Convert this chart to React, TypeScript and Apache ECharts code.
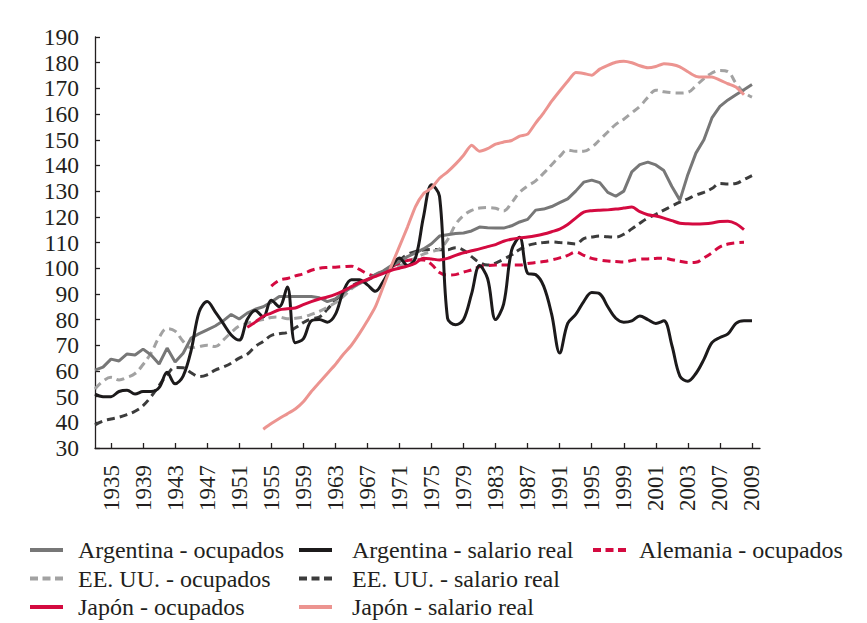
import { useEffect, useRef } from 'react';
import * as echarts from 'echarts';

// category positions as in the source sheet: yearly up to 1999, then mixed steps
const YEARS = [
  '1933', '1934', '1935', '1936', '1937', '1938', '1939', '1940', '1941', '1942',
  '1943', '1944', '1945', '1946', '1947', '1948', '1949', '1950', '1951', '1952',
  '1953', '1954', '1955', '1956', '1957', '1958', '1959', '1960', '1961', '1962',
  '1963', '1964', '1965', '1966', '1967', '1968', '1969', '1970', '1971', '1972',
  '1973', '1974', '1975', '1976', '1977', '1978', '1979', '1980', '1981', '1982',
  '1983', '1984', '1985', '1986', '1987', '1988', '1989', '1990', '1991', '1992',
  '1993', '1994', '1995', '1996', '1997', '1998', '1999', '1999 II', '2000 I', '2000 II',
  '2001', '2001 II', '2002 I', '2002 II', '2003', '2004', '2005', '2006', '2007', '2007 II',
  '2008 I', '2008 II', '2009', '2009 II',
];

const _ = null;

const ARG_OCUPADOS = [
  60.3, 61.5, 64.6, 63.9, 66.6, 66.2, 68.5, 66.2, 62.7, 68.9,
  63.5, 66.9, 72.8, 74.5, 76, 77.5, 79.5, 82, 80.2, 82.5,
  84, 85, 86.8, 89, 89, 89, 89, 89, 88.5, 87,
  88, 90.5, 92.5, 94, 95.5, 97.5, 99, 101, 102.5, 104.5,
  106, 107.5, 109.5, 112.5, 113, 113.5, 113.7, 114.5, 116, 115.7,
  115.6, 115.6, 116.5, 118, 119, 122.6, 123, 124, 125.5, 127,
  130, 133.5, 134.3, 133.3, 129.5, 128, 130, 137.5, 140.3, 141.3,
  140.2, 138, 131.8, 126.5, 136.5, 144.8, 150, 158.5, 163, 165.5,
  167.5, 169.5, 171.5, _,
];

const ARG_SALARIO = [
  51, 50, 50, 52, 52.5, 51, 52, 52, 53.5, 59.5,
  55, 58, 68, 83, 87, 83, 78.5, 74, 72, 80,
  83.5, 81, 87.5, 85, 92.7, 71, 72.5, 79.5, 80, 79,
  82, 91, 95.5, 95.5, 93.5, 91, 95, 100.4, 104, 101,
  104, 120, 132.5, 128, 80.5, 78, 80, 90, 101, 96,
  80, 86, 107, 112, 98, 97.5, 93, 82, 67, 78.5,
  82, 87, 90.5, 90, 85, 80.5, 79, 79.5, 81.4, 80,
  78.5, 79.5, 70, 58, 56, 59, 64.5, 71, 73, 74.4,
  78.5, 79.5, 79.5, _,
];

const ALEMANIA_OCUPADOS = [
  _, _, _, _, _, _, _, _, _, _,
  _, _, _, _, _, _, _, _, _, _,
  _, _, 93, 95.3, 96, 97, 97.8, 99.2, 100, 100.3,
  100.4, 100.6, 100.8, 99.5, 97.8, 97, 98.5, 100.5, 102, 103,
  103.3, 103.2, 101.5, 98.3, 97.3, 97.5, 98.5, 99.3, 100.5, 101,
  101.2, 101.2, 101.2, 101.2, 101.8, 102.2, 102.6, 103.2, 104, 105,
  106.3, 105, 103.8, 103.2, 102.8, 102.6, 102.4, 103, 103.5, 103.6,
  103.8, 103.9, 103.3, 102.7, 102.2, 102.3, 104, 106, 108.3, 109.4,
  109.9, 110.1, _, _,
];

const EEUU_OCUPADOS = [
  53, 56, 57.5, 56.5, 57.5, 59, 62.5, 67, 73, 76.5,
  75.5, 71.5, 69, 69.5, 70, 69.5, 72, 75, 77.5, 78.5,
  79.5, 80, 80.8, 81, 80.3, 80.5, 81, 82, 83.2, 84.8,
  86.5, 89, 92, 94, 95.5, 97.5, 99, 100, 101, 102.3,
  104, 105.5, 106.5, 107.5, 111, 117, 120.5, 122.5, 123.4, 123.6,
  123.3, 122.3, 125.5, 129.5, 132, 134, 137, 140.3, 143.5, 146,
  145.5, 145.5, 147.1, 150, 153, 156, 158, 160.5, 163, 166.5,
  169.3, 168.7, 168.3, 168.2, 168.5, 171, 173.8, 176, 177, 176.5,
  172, 168.5, 166.6, _,
];

const EEUU_SALARIO = [
  39, 40.5, 41.3, 42, 43, 44.3, 46.5, 50, 54.3, 58.5,
  61.3, 61.2, 59.3, 57.8, 58.5, 60.3, 61.5, 63, 65, 66.5,
  69.5, 71.5, 73.8, 74.5, 75, 76.8, 78.8, 80.3, 81, 84,
  87.5, 90.3, 93, 94.5, 95.4, 97, 98.7, 100.5, 103, 105.3,
  106.5, 107.1, 107.3, 107.2, 107.2, 108, 107, 104.5, 102.2, 101.2,
  102, 103.5, 105.2, 107.3, 108.8, 109.6, 110, 110.2, 110, 109.8,
  109.4, 111.5, 112.1, 112.5, 112.2, 112.1, 113.2, 115.3, 117.5, 119.5,
  121, 122.6, 124.2, 125.7, 127, 128.5, 129.5, 131, 133, 132.8,
  133, 134.5, 136, _,
];

const JAPON_OCUPADOS = [
  _, _, _, _, _, _, _, _, _, _,
  _, _, _, _, _, _, _, _, _, 77,
  79, 81.3, 82.5, 83.8, 84.2, 84.5, 85.8, 87, 88, 88.8,
  89.8, 91.2, 92.8, 94.4, 95.6, 96.8, 98, 99.2, 100, 100.8,
  102, 103.9, 103.6, 103.2, 103.8, 105, 106, 106.8, 107.5, 108.4,
  109.2, 110.5, 111.3, 111.8, 112.1, 112.6, 113.3, 114.2, 115.2, 117,
  119.5, 121.8, 122.4, 122.6, 122.7, 123, 123.4, 123.8, 122, 120.8,
  120.3, 119.5, 118.5, 117.5, 117.3, 117.2, 117.3, 117.6, 118.2, 118.3,
  117.3, 115, _, _,
];

const JAPON_SALARIO = [
  _, _, _, _, _, _, _, _, _, _,
  _, _, _, _, _, _, _, _, _, _,
  _, 37.3, 39.5, 41.5, 43.3, 45.2, 48, 52, 55.5, 59,
  62.5, 66.5, 70, 74.5, 79.5, 85, 93, 101, 108.5, 116,
  124, 129, 131.2, 135, 137.5, 140.5, 144, 147.9, 145.5, 146.5,
  148.3, 149.1, 149.7, 151.4, 152.2, 156.5, 160.5, 165, 169, 172.8,
  176.2, 175.8, 175.1, 177.5, 179, 180.2, 180.6, 180, 178.8, 178,
  178.5, 179.6, 179.3, 178.4, 176.5, 174.7, 174.4, 174.4, 173.2, 171.8,
  170.5, 167.5, _, _,
];

const FONT = '"Liberation Serif", "DejaVu Serif", serif';
const INK = '#231f20';
const DASH = [8, 5];

// legend swatches: a solid bar or three dashes
const ICON_SOLID = 'path://M0,0H33V4H0Z';
const ICON_DASHED = 'path://M0,0H8V4H0Z M12.5,0H20.5V4H12.5Z M25,0H33V4H25Z';

const LEGEND_COLS = [
  { left: 30, pad: 10, names: ['Argentina - ocupados', 'EE. UU. - ocupados', 'Japón - ocupados'] },
  { left: 299, pad: 15, names: ['Argentina - salario real', 'EE. UU. - salario real', 'Japón - salario real'] },
  { left: 593, pad: 8, names: ['Alemania - ocupados'] },
];

const DASHED_NAMES = ['EE. UU. - ocupados', 'EE. UU. - salario real', 'Alemania - ocupados'];

const showLabel = (i: number) => i % 4 === 2;

export default function App() {
  const ref = useRef<HTMLDivElement>(null);

  useEffect(() => {
    if (!ref.current) return;
    const chart = echarts.init(ref.current, undefined, { renderer: 'svg' });

    const line = (name: string, data: any[], color: string, smooth: number | boolean) => ({
      name,
      type: 'line',
      data,
      symbol: 'none',
      smooth,
      connectNulls: false,
      lineStyle: { color, width: 3, type: DASHED_NAMES.includes(name) ? DASH : 'solid', cap: 'butt' },
      itemStyle: { color },
    });

    chart.setOption({
      animation: false,
      backgroundColor: '#fff',
      grid: { left: 95, right: 107, top: 37, bottom: 175 },
      xAxis: {
        type: 'category',
        data: YEARS,
        boundaryGap: false,
        axisLine: { lineStyle: { color: INK, width: 1.3 } },
        axisTick: { inside: true, length: 5, interval: showLabel, lineStyle: { color: INK, width: 1.3 } },
        axisLabel: {
          interval: showLabel,
          rotate: 90,
          margin: 17,
          color: INK,
          fontFamily: FONT,
          fontSize: 23,
        },
        splitLine: { show: false },
      },
      yAxis: {
        type: 'value',
        min: 30,
        max: 190,
        interval: 10,
        axisLine: { show: true, lineStyle: { color: INK, width: 1.3 } },
        axisTick: { show: true, inside: true, length: 5, lineStyle: { color: INK, width: 1.3 } },
        axisLabel: { margin: 16, color: INK, fontFamily: FONT, fontSize: 23.5 },
        splitLine: { show: false },
      },
      legend: LEGEND_COLS.map((c) => ({
        data: c.names.map((n) => ({ name: n, icon: DASHED_NAMES.includes(n) ? ICON_DASHED : ICON_SOLID })),
        orient: 'vertical',
        left: c.left,
        top: 538,
        padding: 0,
        itemWidth: 33,
        itemHeight: 4,
        itemGap: 4.5,
        itemStyle: { borderWidth: 0 },
        textStyle: { color: INK, fontFamily: FONT, fontSize: 24, lineHeight: 24, padding: [0, 0, 0, c.pad] },
      })),
      series: [
        line('EE. UU. - salario real', EEUU_SALARIO, '#3c3c3c', 0.4),
        line('EE. UU. - ocupados', EEUU_OCUPADOS, '#a2a2a2', 0.4),
        line('Alemania - ocupados', ALEMANIA_OCUPADOS, '#d40a40', 0.4),
        line('Argentina - ocupados', ARG_OCUPADOS, '#777777', false),
        line('Argentina - salario real', ARG_SALARIO, '#1c1a1b', 0.35),
        line('Japón - salario real', JAPON_SALARIO, '#ec9490', 0.2),
        line('Japón - ocupados', JAPON_OCUPADOS, '#d40a40', 0.3),
      ],
    });

    return () => chart.dispose();
  }, []);

  return <div ref={ref} style={{ position: 'absolute', left: 0, top: 0, width: 867, height: 623 }} />;
}
